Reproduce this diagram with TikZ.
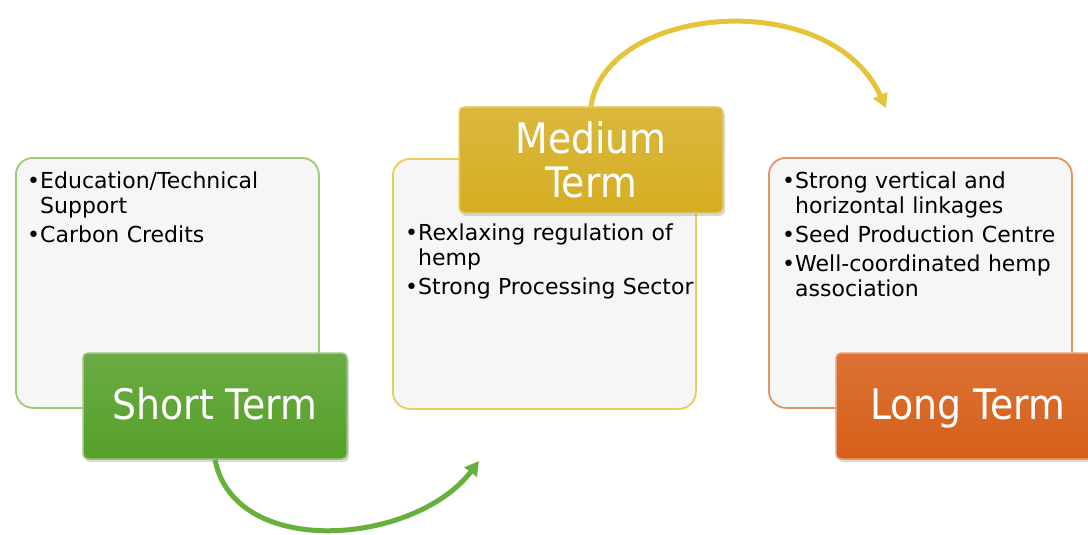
\documentclass[tikz,border=0pt]{standalone}
\usepackage{fontspec}
\setmainfont{DejaVu Sans}
\newfontfamily\termfont{DejaVu Sans}[FakeStretch=0.9]
\usetikzlibrary{arrows.meta,shadows}

\definecolor{boxgray}{HTML}{F6F6F6}
\definecolor{shortgreen}{HTML}{56A02A}
\definecolor{shortedge}{HTML}{9BCB74}
\definecolor{mediumgold}{HTML}{D5AE22}
\definecolor{mediumedge}{HTML}{E8CD58}
\definecolor{longorange}{HTML}{D65F19}
\definecolor{longedge}{HTML}{E39467}
\definecolor{arrowgreen}{HTML}{68B03C}
\definecolor{arrowgold}{HTML}{E4C43A}

\newcommand{\bitem}[1]{\par\setbox0\hbox{•}\hangindent=\wd0\hangafter=1\noindent\box0 #1\par}

\begin{document}
\begin{tikzpicture}[x=1pt, y=-1pt,
    textbox/.style = {draw=#1, line width=1.8pt, fill=boxgray, rounded corners=17pt,
      minimum width=303pt, minimum height=250pt, anchor=north west, inner sep=0pt},
    termbox/.style = {top color=#1!88!white, bottom color=#1, draw=#1!60!white,
      line width=1.5pt, rounded corners=5pt, minimum width=264pt, minimum height=106pt,
      text=white, font=\termfont\fontsize{42}{44}\selectfont, align=center,
      drop shadow={opacity=0.3, shadow xshift=2pt, shadow yshift=-3pt}},
    oneline/.style = {text height=32pt, text depth=5pt},
    items/.style = {anchor=north west, inner sep=0pt, text width=300pt, align=left,
      font=\fontsize{22}{25}\selectfont},
    flow/.style = {line width=5pt, draw=#1, -{Triangle[length=14pt, width=15pt]}}]
    \useasboundingbox (0,0) rectangle (1088,535);

    \coordinate (greentip) at (479,461);
    \coordinate (goldtip) at (886,108);

    % text boxes
    \node[textbox=shortedge] (edubox) at (15,157) {};
    \node[textbox=mediumedge] (regbox) at (392,158) {};
    \node[textbox=longedge] (linkbox) at (768,157) {};

    \node[items] (eduitems) at (27,159) {\setlength\parskip{4pt}%
      \bitem{Education/Technical\newline Support}\bitem{Carbon Credits}};
    \node[items] (regitems) at (405,211) {\setlength\parskip{4pt}%
      \bitem{Rexlaxing regulation of\newline hemp}\bitem{Strong Processing Sector}};
    \node[items] (linkitems) at (782,159) {\setlength\parskip{4pt}%
      \bitem{Strong vertical and\newline horizontal linkages}\bitem{Seed Production Centre}%
      \bitem{Well-coordinated hemp\newline association}};

    % term labels
    \node[termbox=shortgreen, oneline] (short) at (215,406) {Short Term};
    \node[termbox=mediumgold] (medium) at (591,160) {Medium\\Term};
    \node[termbox=longorange, oneline] (long) at (968,406) {Long Term};

    % curved arrows
    \draw[flow=arrowgreen] (short.south) .. controls (235,560) and (415,545) .. (greentip);
    \draw[flow=arrowgold] (medium.north) .. controls (605,5) and (830,-15) .. (goldtip);
\end{tikzpicture}
\end{document}
